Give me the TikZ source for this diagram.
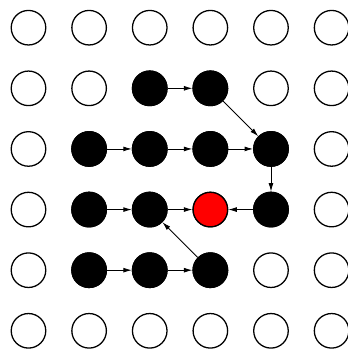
\documentclass[tikz,border=0pt]{standalone}
\usetikzlibrary{arrows.meta}
\tikzset{
  site/.style={circle, draw=black, line width=0.6pt, minimum size=0.57cm, inner sep=0pt},
  occ/.style={site, fill=black},
  seed/.style={site, fill=red},
  hop/.style={-{Latex[length=1.4mm,width=0.8mm]}, line width=0.4pt},
}
\begin{document}
\begin{tikzpicture}
  \useasboundingbox (-0.47,0.457) rectangle (5.27,-5.30);
  % lattice
  \foreach \r in {0,...,5}
    \foreach \c in {0,...,5}
      \node[site] (n\r\c) at (\c,-\r) {};
  % occupied sites
  \foreach \r/\c in {1/2,1/3,2/1,2/2,2/3,2/4,3/1,3/2,3/4,4/1,4/2,4/3}
    \node[occ] (n\r\c) at (\c,-\r) {};
  \node[seed] (n33) at (3,-3) {};
  % moves
  \foreach \a/\b in {12/13,13/24,21/22,22/23,23/24,24/34,34/33,31/32,32/33,41/42,42/43,43/32}
    \draw[hop] (n\a) -- (n\b);
\end{tikzpicture}
\end{document}
